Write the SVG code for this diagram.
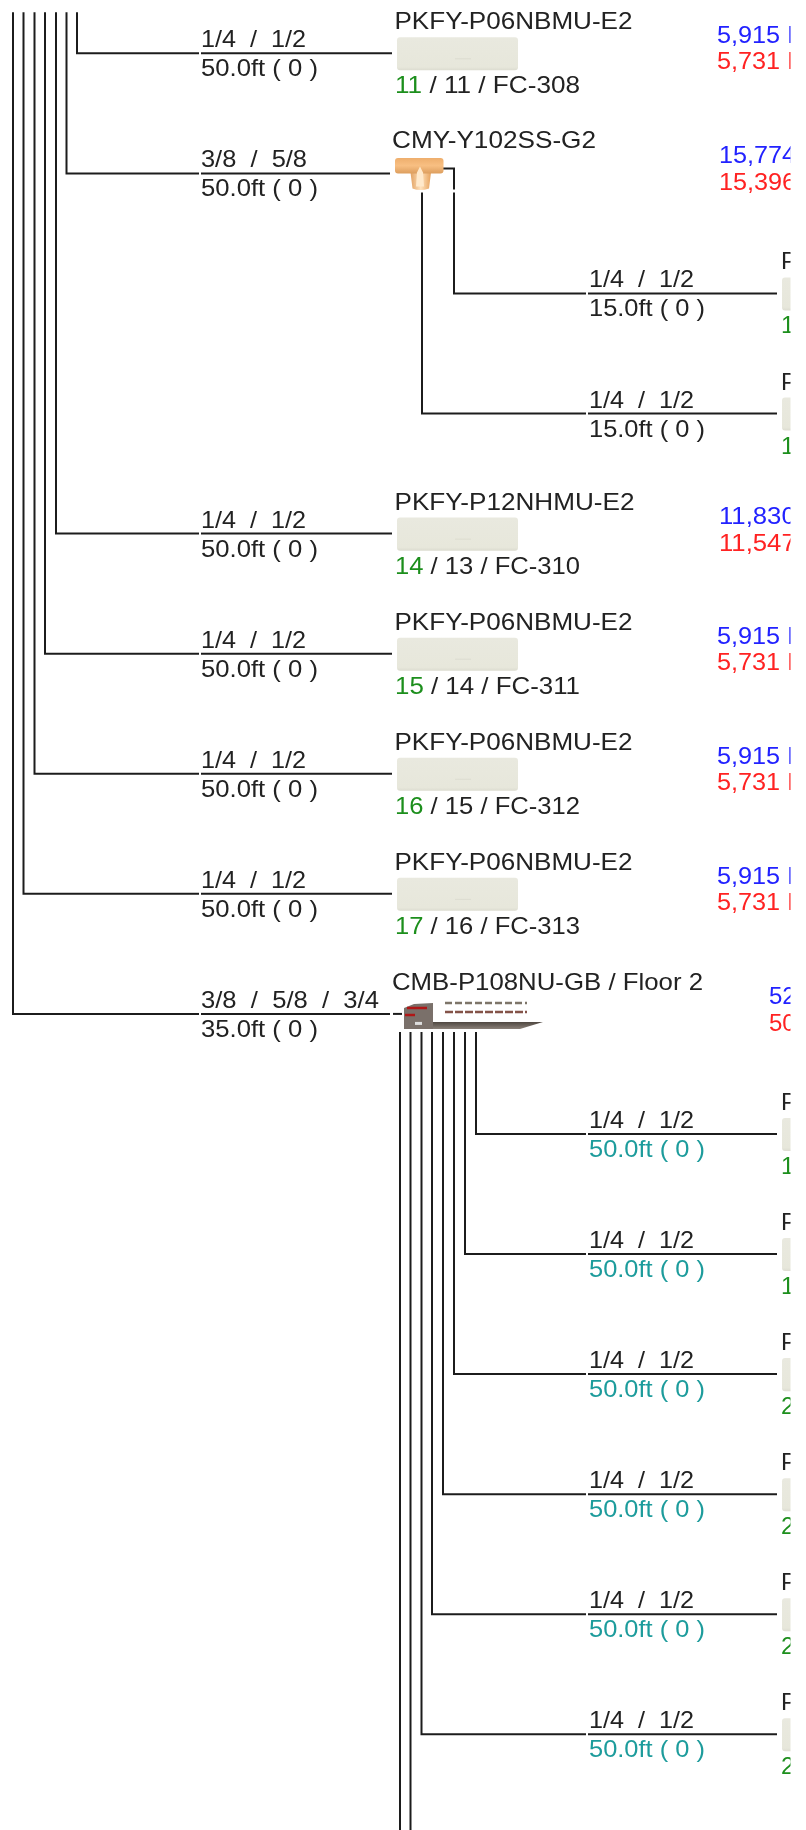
<svg xmlns="http://www.w3.org/2000/svg" xmlns:xlink="http://www.w3.org/1999/xlink" width="806" height="1830" viewBox="0 0 806 1830">
<style>
text{font-family:"Liberation Sans",Arial,sans-serif;font-size:24px;fill:#222;white-space:pre}
.g{fill:#1e8f1e}.b{fill:#2222ff}.r{fill:#ff2222}.t{fill:#1f9c9c}
#connectors path{fill:none;stroke:#1c1c1c;stroke-width:2}
</style>
<defs>
<linearGradient id="acg" x1="0" y1="0" x2="0" y2="1"><stop offset="0" stop-color="#e9e9df"/><stop offset=".9" stop-color="#e7e7db"/><stop offset="1" stop-color="#dcdcd0"/></linearGradient>
<linearGradient id="cu" x1="0" y1="0" x2="0" y2="1"><stop offset="0" stop-color="#eeae6c"/><stop offset=".5" stop-color="#f8bf82"/><stop offset="1" stop-color="#dd9e5e"/></linearGradient>
<linearGradient id="cus" x1="0" y1="0" x2="1" y2="0"><stop offset="0" stop-color="#e2a262"/><stop offset=".5" stop-color="#ffe2bd"/><stop offset="1" stop-color="#e6a25c"/></linearGradient>
<linearGradient id="sh" x1="0" y1="0" x2="0" y2="1"><stop offset="0" stop-color="#4e4640"/><stop offset="1" stop-color="#8a8078"/></linearGradient>
<clipPath id="cl"><rect x="0" y="0" width="790.5" height="1830"/></clipPath>
<filter id="soft" x="0" y="0" width="1" height="1"><feGaussianBlur stdDeviation="0.45"/></filter>
<g id="ac"><rect x="0" y="0" width="121" height="33" rx="3" fill="url(#acg)"/><rect x="58" y="21" width="16" height="1" fill="#dcdcd0"/></g>
</defs>
<g filter="url(#soft)">
<rect width="806" height="1830" fill="#fff"/>
<g transform="translate(0,0.3) scale(1,1.0006)">
<g id="connectors">
<path d="M77 12V53H199M201 53H392"/>
<path d="M66.500 12V173H199M201 173H390"/>
<path d="M56 12V533H199M201 533H392"/>
<path d="M45 12V653H199M201 653H392"/>
<path d="M34.500 12V773H199M201 773H392"/>
<path d="M23.500 12V893H199M201 893H392"/>
<path d="M13 12V1013H199M201 1013H390"/>
<path d="M393 1013H402"/>
<path d="M443 168H454V189M454 192V293H586M588 293H777"/>
<path d="M422 192V413H586M588 413H777"/>
<path d="M476 1031V1133H586M588 1133H777"/>
<path d="M465 1031V1253H586M588 1253H777"/>
<path d="M454 1031V1373H586M588 1373H777"/>
<path d="M443 1031V1493H586M588 1493H777"/>
<path d="M432 1031V1613H586M588 1613H777"/>
<path d="M421.500 1031V1733H586M588 1733H777"/>
<path d="M410.500 1031V1830"/>
<path d="M400 1031V1830"/>
</g>
<g id="labels">
<text x="201" y="47" textLength="105" lengthAdjust="spacingAndGlyphs">1/4  /  1/2</text><text x="201" y="76" textLength="117" lengthAdjust="spacingAndGlyphs">50.0ft ( 0 )</text>
<text x="201" y="167" textLength="106" lengthAdjust="spacingAndGlyphs">3/8  /  5/8</text><text x="201" y="196" textLength="117" lengthAdjust="spacingAndGlyphs">50.0ft ( 0 )</text>
<text x="589" y="287" textLength="105" lengthAdjust="spacingAndGlyphs">1/4  /  1/2</text><text x="589" y="316" textLength="116" lengthAdjust="spacingAndGlyphs">15.0ft ( 0 )</text>
<text x="589" y="407" textLength="105" lengthAdjust="spacingAndGlyphs">1/4  /  1/2</text><text x="589" y="436" textLength="116" lengthAdjust="spacingAndGlyphs">15.0ft ( 0 )</text>
<text x="201" y="527" textLength="105" lengthAdjust="spacingAndGlyphs">1/4  /  1/2</text><text x="201" y="556" textLength="117" lengthAdjust="spacingAndGlyphs">50.0ft ( 0 )</text>
<text x="201" y="647" textLength="105" lengthAdjust="spacingAndGlyphs">1/4  /  1/2</text><text x="201" y="676" textLength="117" lengthAdjust="spacingAndGlyphs">50.0ft ( 0 )</text>
<text x="201" y="767" textLength="105" lengthAdjust="spacingAndGlyphs">1/4  /  1/2</text><text x="201" y="796" textLength="117" lengthAdjust="spacingAndGlyphs">50.0ft ( 0 )</text>
<text x="201" y="887" textLength="105" lengthAdjust="spacingAndGlyphs">1/4  /  1/2</text><text x="201" y="916" textLength="117" lengthAdjust="spacingAndGlyphs">50.0ft ( 0 )</text>
<text x="201" y="1007" textLength="178" lengthAdjust="spacingAndGlyphs">3/8  /  5/8  /  3/4</text><text x="201" y="1036" textLength="117" lengthAdjust="spacingAndGlyphs">35.0ft ( 0 )</text>
<text x="589" y="1127" textLength="105" lengthAdjust="spacingAndGlyphs">1/4  /  1/2</text><text class="t" x="589" y="1156" textLength="116" lengthAdjust="spacingAndGlyphs">50.0ft ( 0 )</text>
<text x="589" y="1247" textLength="105" lengthAdjust="spacingAndGlyphs">1/4  /  1/2</text><text class="t" x="589" y="1276" textLength="116" lengthAdjust="spacingAndGlyphs">50.0ft ( 0 )</text>
<text x="589" y="1367" textLength="105" lengthAdjust="spacingAndGlyphs">1/4  /  1/2</text><text class="t" x="589" y="1396" textLength="116" lengthAdjust="spacingAndGlyphs">50.0ft ( 0 )</text>
<text x="589" y="1487" textLength="105" lengthAdjust="spacingAndGlyphs">1/4  /  1/2</text><text class="t" x="589" y="1516" textLength="116" lengthAdjust="spacingAndGlyphs">50.0ft ( 0 )</text>
<text x="589" y="1607" textLength="105" lengthAdjust="spacingAndGlyphs">1/4  /  1/2</text><text class="t" x="589" y="1636" textLength="116" lengthAdjust="spacingAndGlyphs">50.0ft ( 0 )</text>
<text x="589" y="1727" textLength="105" lengthAdjust="spacingAndGlyphs">1/4  /  1/2</text><text class="t" x="589" y="1756" textLength="116" lengthAdjust="spacingAndGlyphs">50.0ft ( 0 )</text>
</g>
<g clip-path="url(#cl)">
<g id="n11"><text x="394.500" y="29" textLength="238" lengthAdjust="spacingAndGlyphs">PKFY-P06NBMU-E2</text><use xlink:href="#ac" x="397" y="37"/><text x="395" y="93" textLength="185" lengthAdjust="spacingAndGlyphs"><tspan class="g">11</tspan> / 11 / FC-308</text><text class="b" x="717" y="43" textLength="87" lengthAdjust="spacingAndGlyphs">5,915 B</text><text class="r" x="717" y="69" textLength="87" lengthAdjust="spacingAndGlyphs">5,731 B</text></g>
<g id="tee"><text x="392" y="148" textLength="204" lengthAdjust="spacingAndGlyphs">CMY-Y102SS-G2</text>
<path d="M410.500 172H431L429 188Q420 191 412.500 188Z" fill="url(#cus)"/><rect x="395" y="157.500" width="48.500" height="15.500" rx="3" fill="url(#cu)"/><path d="M417 172L420 166L423 172L424 186H416Z" fill="#ffe9cb"/>
<text class="b" x="719" y="163" textLength="101" lengthAdjust="spacingAndGlyphs">15,774 B</text><text class="r" x="719" y="190" textLength="101" lengthAdjust="spacingAndGlyphs">15,396 B</text></g>
<g id="n12"><text x="781" y="269">P</text><use xlink:href="#ac" x="782" y="277"/><text class="g" x="781" y="333">1</text></g>
<g id="n13"><text x="781" y="389">P</text><use xlink:href="#ac" x="782" y="397"/><text class="g" x="781" y="453">1</text></g>
<g id="n14"><text x="394.500" y="509" textLength="240" lengthAdjust="spacingAndGlyphs">PKFY-P12NHMU-E2</text><use xlink:href="#ac" x="397" y="517"/><text x="395" y="573" textLength="185" lengthAdjust="spacingAndGlyphs"><tspan class="g">14</tspan> / 13 / FC-310</text><text class="b" x="719" y="523" textLength="101" lengthAdjust="spacingAndGlyphs">11,830 B</text><text class="r" x="719" y="550" textLength="101" lengthAdjust="spacingAndGlyphs">11,547 B</text></g>
<g id="n15"><text x="394.500" y="629" textLength="238" lengthAdjust="spacingAndGlyphs">PKFY-P06NBMU-E2</text><use xlink:href="#ac" x="397" y="637"/><text x="395" y="693" textLength="185" lengthAdjust="spacingAndGlyphs"><tspan class="g">15</tspan> / 14 / FC-311</text><text class="b" x="717" y="643" textLength="87" lengthAdjust="spacingAndGlyphs">5,915 B</text><text class="r" x="717" y="669" textLength="87" lengthAdjust="spacingAndGlyphs">5,731 B</text></g>
<g id="n16"><text x="394.500" y="749" textLength="238" lengthAdjust="spacingAndGlyphs">PKFY-P06NBMU-E2</text><use xlink:href="#ac" x="397" y="757"/><text x="395" y="813" textLength="185" lengthAdjust="spacingAndGlyphs"><tspan class="g">16</tspan> / 15 / FC-312</text><text class="b" x="717" y="763" textLength="87" lengthAdjust="spacingAndGlyphs">5,915 B</text><text class="r" x="717" y="789" textLength="87" lengthAdjust="spacingAndGlyphs">5,731 B</text></g>
<g id="n17"><text x="394.500" y="869" textLength="238" lengthAdjust="spacingAndGlyphs">PKFY-P06NBMU-E2</text><use xlink:href="#ac" x="397" y="877"/><text x="395" y="933" textLength="185" lengthAdjust="spacingAndGlyphs"><tspan class="g">17</tspan> / 16 / FC-313</text><text class="b" x="717" y="883" textLength="87" lengthAdjust="spacingAndGlyphs">5,915 B</text><text class="r" x="717" y="909" textLength="87" lengthAdjust="spacingAndGlyphs">5,731 B</text></g>
<g id="cmb"><text x="392" y="989" textLength="311" lengthAdjust="spacingAndGlyphs">CMB-P108NU-GB / Floor 2</text>
<path d="M404 1007L414 1003L433 1002V1028H404Z" fill="#7a706a"/><path d="M433 1021H543L520 1028H433Z" fill="url(#sh)"/>
<path d="M407 1007H427" stroke="#b01818" stroke-width="2.500"/><path d="M405 1014H415" stroke="#b01818" stroke-width="2.500"/><rect x="415" y="1021" width="7" height="3" fill="#ddd"/>
<path d="M445 1002H527" stroke="#7d7569" stroke-width="2.500" stroke-dasharray="7 3"/><path d="M445 1011H527" stroke="#84524a" stroke-width="2.500" stroke-dasharray="8 2"/>
<text class="b" x="769" y="1003">52</text><text class="r" x="769" y="1030">50</text></g>
<g id="n18"><text x="781" y="1109">P</text><use xlink:href="#ac" x="782" y="1117"/><text class="g" x="781" y="1173">1</text></g>
<g id="n19"><text x="781" y="1229">P</text><use xlink:href="#ac" x="782" y="1237"/><text class="g" x="781" y="1293">1</text></g>
<g id="n20"><text x="781" y="1349">P</text><use xlink:href="#ac" x="782" y="1357"/><text class="g" x="781" y="1413">2</text></g>
<g id="n21"><text x="781" y="1469">P</text><use xlink:href="#ac" x="782" y="1477"/><text class="g" x="781" y="1533">2</text></g>
<g id="n22"><text x="781" y="1589">P</text><use xlink:href="#ac" x="782" y="1597"/><text class="g" x="781" y="1653">2</text></g>
<g id="n23"><text x="781" y="1709">P</text><use xlink:href="#ac" x="782" y="1717"/><text class="g" x="781" y="1773">2</text></g>
</g>
</g>
</g>
</svg>
